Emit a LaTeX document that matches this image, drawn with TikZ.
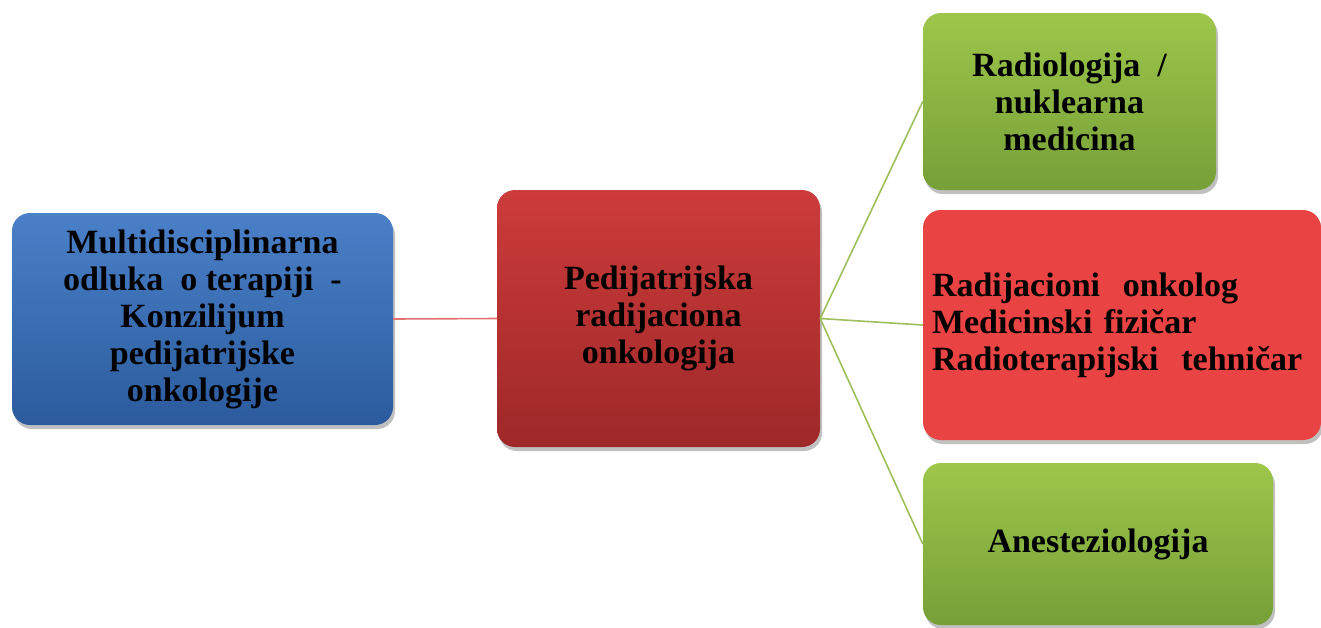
\documentclass[tikz,border=0pt]{standalone}
\usepackage{fontspec}
\setmainfont{Liberation Serif}
\usetikzlibrary{positioning,shadows}

\definecolor{blueTop}{HTML}{4A80C8}
\definecolor{blueBot}{HTML}{2B5B9D}
\definecolor{redTop}{HTML}{CD3B3B}
\definecolor{redBot}{HTML}{9E2828}
\definecolor{greenTop}{HTML}{9DC64A}
\definecolor{greenBot}{HTML}{76A038}
\definecolor{redFlat}{HTML}{EA4343}
\definecolor{linkRed}{HTML}{E27272}
\definecolor{linkGreen}{HTML}{9DBF5C}

\begin{document}
\begin{tikzpicture}[x=1pt,y=-1pt,
    box/.style={rounded corners=18pt, inner sep=0pt, align=center,
        font=\bfseries\fontsize{34}{37}\selectfont,
        drop shadow={shadow xshift=2pt, shadow yshift=-4pt, opacity=0.45, fill=black!55}},
    bluebox/.style={box, top color=blueTop, bottom color=blueBot},
    redbox/.style={box, top color=redTop, bottom color=redBot},
    greenbox/.style={box, top color=greenTop, bottom color=greenBot},
    link/.style={line width=1.6pt}]
    \useasboundingbox (0,0) rectangle (1321,627);

    % Left: decision
    \node[bluebox, minimum width=381pt, minimum height=212pt] (konzilijum) at (202.5,319)
        {Multidisciplinarna\\odluka~ o terapiji~ -\\Konzilijum\\pedijatrijske\\onkologije};

    % Centre
    \node[redbox, minimum width=323pt, minimum height=257pt] (radonk) at (658.5,318.5)
        {Pedijatrijska\\radijaciona\\onkologija};

    % Right column
    \node[greenbox, minimum width=293pt, minimum height=177pt] (radiologija) at (1069.5,101.5)
        {Radiologija~ /\\nuklearna\\medicina};
    \node[box, fill=redFlat, minimum width=398pt, minimum height=230pt,
        text width=380pt, align=left] (tim) at (1122,325)
        {Radijacioni~ onkolog\\Medicinski fizičar\\Radioterapijski~ tehničar};
    \node[greenbox, minimum width=350pt, minimum height=162pt] (anestezija) at (1098,544)
        {Anesteziologija};

    % Connectors
    \draw[link, linkRed] (konzilijum.east) -- (radonk.west);
    \draw[link, linkGreen] (radonk.east) -- (radiologija.west);
    \draw[link, linkGreen] (radonk.east) -- (tim.west);
    \draw[link, linkGreen] (radonk.east) -- (anestezija.west);
\end{tikzpicture}
\end{document}
